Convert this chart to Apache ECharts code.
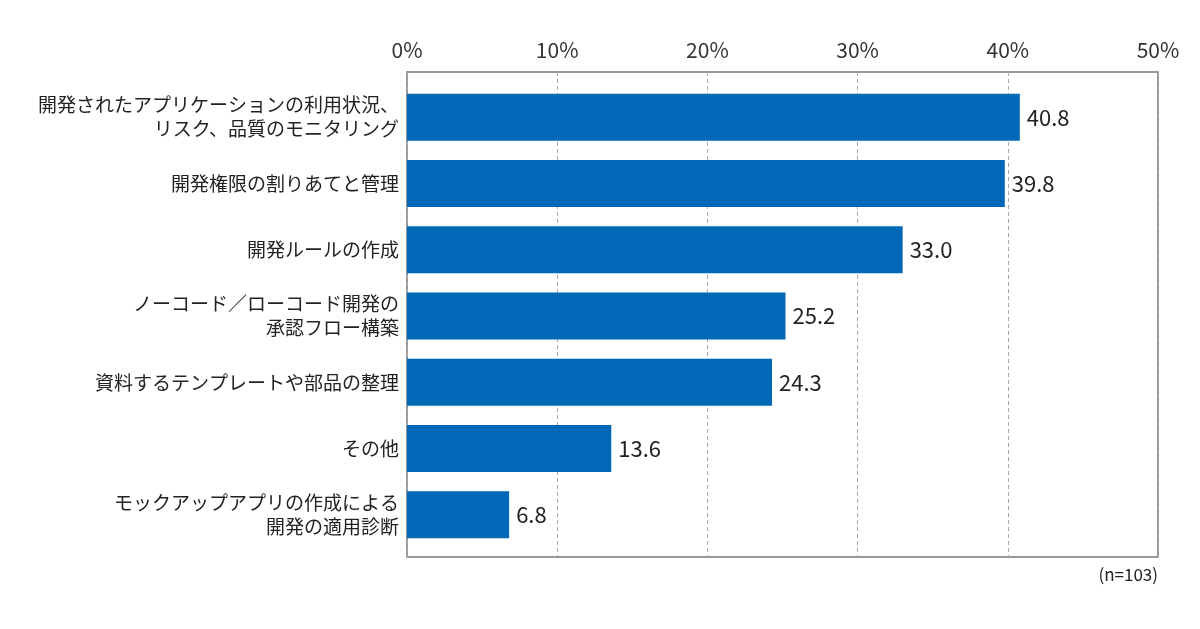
<!DOCTYPE html>
<html>
<head>
<meta charset="utf-8">
<script src="https://cdn.jsdelivr.net/npm/echarts@6/dist/echarts.min.js"></script>
<style>
  html, body { margin: 0; padding: 0; background: #fff; }
  #main { width: 1200px; height: 629px; }
</style>
</head>
<body>
<div id="main"></div>
<script>
// 項目（上から順）
var categories = [
    '開発されたアプリケーションの利用状況、\nリスク、品質のモニタリング',
    '開発権限の割りあてと管理',
    '開発ルールの作成',
    'ノーコード／ローコード開発の\n承認フロー構築',
    '資料するテンプレートや部品の整理',
    'その他',
    'モックアップアプリの作成による\n開発の適用診断'
];
var values = [40.8, 39.8, 33.0, 25.2, 24.3, 13.6, 6.8];
var tickLabels = ['0%', '10%', '20%', '30%', '40%', '50%'];
var note = '(n=103)';

var font = '"Noto Sans CJK JP", "Noto Sans", sans-serif';
var chart = echarts.init(document.getElementById('main'));

var option = {
    backgroundColor: '#fff',
    animation: false,
    grid: [
        // 外枠とグリッド線
        { left: 407, right: 42, top: 72, bottom: 72, show: true, borderColor: '#777', borderWidth: 1.5, backgroundColor: '#fff' },
        // 棒を描く領域（上下に少し余白）
        { left: 407, right: 42, top: 84, bottom: 81 }
    ],
    xAxis: [{
        gridIndex: 0,
        type: 'value',
        position: 'top',
        min: 0, max: 50, interval: 10,
        axisLine: { show: false },
        axisTick: { show: false },
        axisLabel: {
            margin: 11,
            fontSize: 21,
            color: '#333',
            fontFamily: font,
            formatter: function (v) { return tickLabels[Math.round(v / 10)]; }
        },
        splitLine: { show: true, lineStyle: { color: '#aaa', type: [4, 3], width: 1 } }
    }, {
        gridIndex: 1,
        type: 'value',
        min: 0, max: 50,
        show: false
    }],
    yAxis: [{
        gridIndex: 0,
        type: 'category',
        data: categories,
        inverse: true,
        show: false
    }, {
        gridIndex: 1,
        type: 'category',
        data: categories,
        inverse: true,
        axisLine: { show: false },
        axisTick: { show: false },
        axisLabel: {
            margin: 8,
            fontSize: 19,
            lineHeight: 24,
            color: '#222',
            fontFamily: font,
            align: 'right'
        }
    }],
    series: [{
        type: 'bar',
        xAxisIndex: 1,
        yAxisIndex: 1,
        data: values,
        barWidth: 47,
        itemStyle: { color: '#0068b7' },
        label: {
            show: true,
            position: 'right',
            distance: 7,
            fontSize: 22,
            color: '#222',
            fontFamily: font,
            formatter: function (p) { return p.value.toFixed(1); }
        }
    }],
    graphic: [{
        type: 'text',
        right: 42,
        top: 566,
        style: { text: note, fontSize: 17, fill: '#222', fontFamily: font }
    }]
};

chart.setOption(option);
</script>
</body>
</html>
